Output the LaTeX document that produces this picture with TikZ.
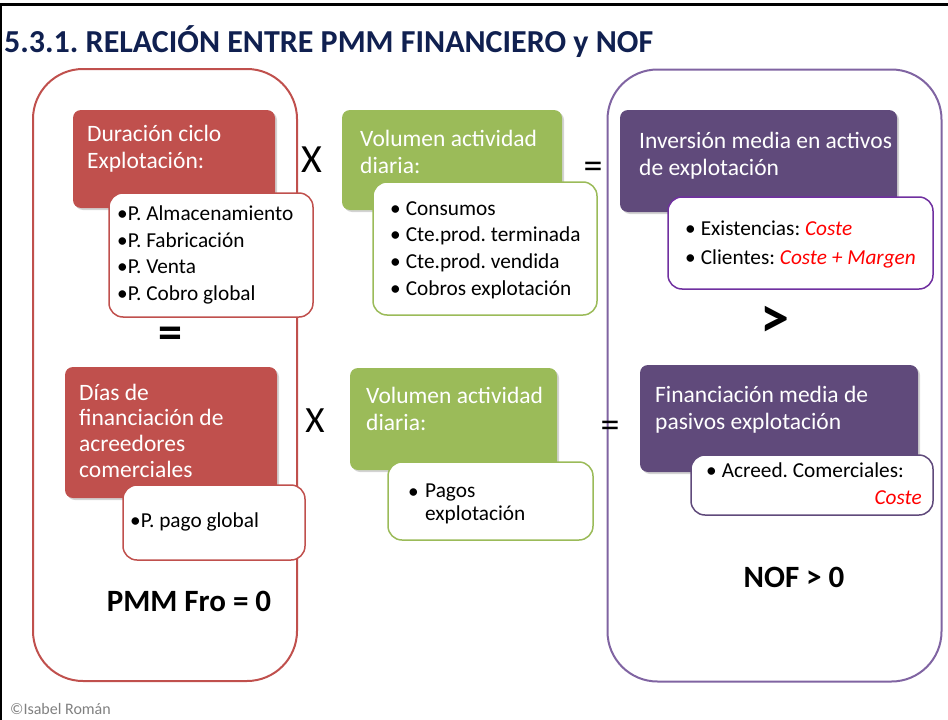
\documentclass[tikz,border=0pt]{standalone}
\usepackage{fontspec}
\setmainfont{Carlito}
\usetikzlibrary{shadows}
\definecolor{redc}{HTML}{C0504D}
\definecolor{greenc}{HTML}{9BBB59}
\definecolor{purc}{HTML}{604A7B}
\definecolor{purline}{HTML}{8064A2}
\definecolor{purdark}{HTML}{7030A0}
\definecolor{navy}{RGB}{16,32,80}
\definecolor{redtxt}{HTML}{FF0000}
\frenchspacing
\begin{document}
\frenchspacing
\begin{tikzpicture}[x=1pt,y=-1pt,
  bigbox/.style={draw, line width=2pt, rounded corners=50pt, inner sep=0pt},
  colbox/.style={rounded corners=8pt, inner sep=0pt,
    drop shadow={opacity=0.35, shadow xshift=2pt, shadow yshift=-2pt}},
  whitebox/.style={draw, fill=white, line width=1.5pt, rounded corners=14pt, inner sep=0pt},
  hdr/.style={text=white, font=\fontsize{23.5}{26.5}\selectfont, anchor=base west, inner sep=0pt, align=left},
  itm/.style={text=black, font=\fontsize{21.3}{22.5}\selectfont, anchor=base west, inner sep=0pt},
  op/.style={font=\fontsize{40}{40}\selectfont, inner sep=0pt},
  res/.style={font=\fontsize{31}{34}\selectfont\bfseries, anchor=base, inner sep=0pt},
  red/.style={text=redtxt, font=\fontsize{21.3}{22.5}\selectfont\itshape}
]
\useasboundingbox (0,0) rectangle (948,720);
% frame
\draw[line width=3pt] (0,4.5) -- (948,4.5);
\draw[line width=2pt] (1,4) -- (1,720);
% title
\node[anchor=base west, inner sep=0pt, text=navy, font=\fontsize{32}{36}\selectfont\bfseries] (title) at (4,52) {5.3.1. RELACIÓN ENTRE PMM FINANCIERO y NOF};
% big boxes
\node[bigbox, draw=redc, minimum width=264, minimum height=612] (L) at (165,375) {};
\node[bigbox, draw=purline, minimum width=334, minimum height=612] (R) at (774.5,375.5) {};

% ---- left column
\node[colbox, fill=redc, minimum width=202, minimum height=98] (r1) at (174,159) {};
\node[hdr] (r1t) at (87,168.3) {Duración ciclo\\Explotación:};
\node[whitebox, draw=redc, minimum width=204, minimum height=124] (w1) at (211,255) {};
\node[itm] (w1a) at (117,220.5) {•P. Almacenamiento};
\node[itm] (w1b) at (117,247) {•P. Fabricación};
\node[itm] (w1c) at (117,273.5) {•P. Venta};
\node[itm] (w1d) at (117,300) {•P. Cobro global};
\node[font=\fontsize{48}{48}\selectfont\bfseries, inner sep=0pt] (eqL) at (170,338) {=};
\node[colbox, fill=redc, minimum width=212, minimum height=131] (r2) at (171,432.5) {};
\node[hdr, font=\fontsize{23.5}{25.6}\selectfont] (r2t) at (79,477) {Días de\\financiación de\\acreedores\\comerciales};
\node[whitebox, draw=redc, minimum width=182, minimum height=75] (w2) at (214,522.5) {};
\node[itm] (w2a) at (130,527) {•P. pago global};
\node[res] (pmm) at (189,611) {PMM Fro = 0};

% operators
\node[op] (x1) at (312,160) {X};
\node[op, font=\fontsize{37}{37}\selectfont] (x2) at (315,421) {X};
\node[op, font=\fontsize{38}{38}\selectfont] (e1) at (593,170) {=};
\node[op, font=\fontsize{38}{38}\selectfont] (e2) at (610,429) {=};

% ---- middle column
\node[colbox, fill=greenc, minimum width=220, minimum height=100] (g1) at (452,160) {};
\node[hdr] (g1t) at (360,173.3) {Volumen actividad\\diaria:};
\node[whitebox, draw=greenc, minimum width=224, minimum height=133] (wg1) at (485,248.5) {};
\node[itm] (wg1a) at (390,215) {•\hspace{5pt}Consumos};
\node[itm] (wg1b) at (390,241.7) {•\hspace{5pt}Cte.prod. terminada};
\node[itm] (wg1c) at (390,268.3) {•\hspace{5pt}Cte.prod. vendida};
\node[itm] (wg1d) at (390,295) {•\hspace{5pt}Cobros explotación};
\node[colbox, fill=greenc, minimum width=207, minimum height=102] (g2) at (453.5,419) {};
\node[hdr] (g2t) at (366,430) {Volumen actividad\\diaria:};
\node[whitebox, draw=greenc, minimum width=205, minimum height=78] (wg2) at (490.5,501) {};
\node[itm] (wg2a) at (408,498) {•};
\node[itm, align=left] (wg2b) at (425,520) {Pagos\\explotación};

% ---- right column
\node[colbox, fill=purc, minimum width=277, minimum height=102] (p1) at (758.5,161) {};
\node[hdr] (p1t) at (639,175) {Inversión media en activos\\de explotación};
\node[whitebox, draw=purdark, minimum width=265, minimum height=92] (wp1) at (800.5,243) {};
\node[itm] (wp1a) at (685,235) {•\hspace{5pt}Existencias: \textcolor{redtxt}{\itshape Coste}};
\node[itm] (wp1b) at (685,264) {•\hspace{5pt}Clientes: \textcolor{redtxt}{\itshape Coste + Margen}};
\node[font=\fontsize{58}{58}\selectfont\bfseries, inner sep=0pt] (gt) at (775,322) {>};
\node[colbox, fill=purc, minimum width=278, minimum height=107] (p2) at (779,418.5) {};
\node[hdr] (p2t) at (655,429) {Financiación media de\\pasivos explotación};
\node[whitebox, draw=purc, minimum width=242, minimum height=60] (wp2) at (812,485) {};
\node[itm] (wp2a) at (706,477) {•\hspace{5pt}Acreed. Comerciales:};
\node[red, anchor=base east, inner sep=0pt] (wp2b) at (922,504) {Coste};
\node[res] (nof) at (794,587) {NOF > 0};

% footer
\node[anchor=base west, inner sep=0pt, text=black!50, font=\fontsize{16}{18}\selectfont] (foot) at (10,714) {©Isabel Román};
\end{tikzpicture}
\end{document}
